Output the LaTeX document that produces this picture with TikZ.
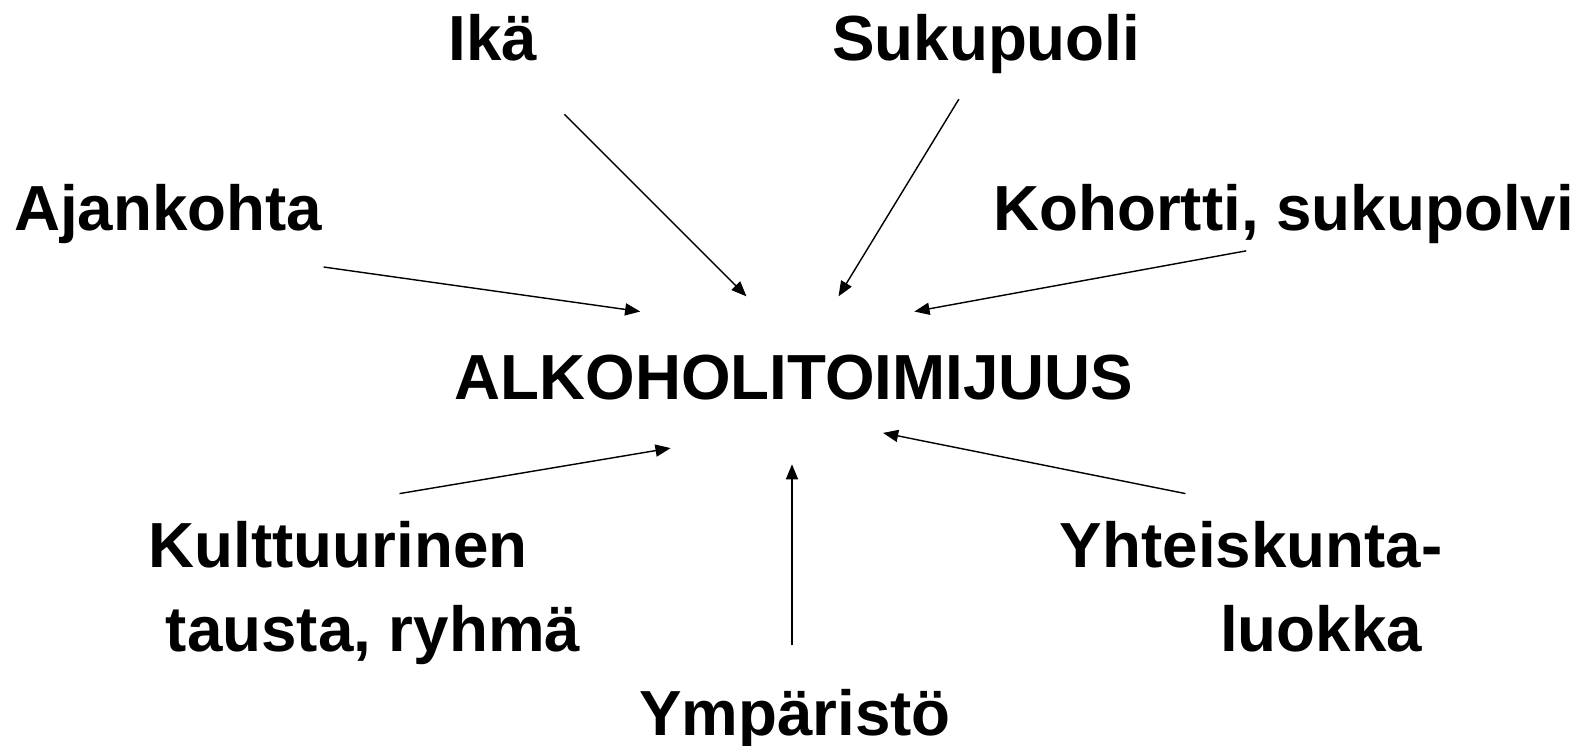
\documentclass[tikz,border=0pt]{standalone}
\usepackage{fontspec}
\setmainfont{Liberation Sans}
\usetikzlibrary{arrows.meta}
\tikzset{
  lbl/.style={font=\fontsize{31.5}{38}\selectfont\bfseries, inner sep=0pt, outer sep=0pt},
  arr/.style={-{Triangle[length=7.5pt,width=6pt]}, line width=0.7pt}
}
\begin{document}
\begin{tikzpicture}[x=0.5pt,y=-0.5pt]
\useasboundingbox (0,0) rectangle (1568,737);
% labels
\node[lbl, anchor=base] (ika) at (487,60) {Ikä};
\node[lbl, anchor=base] (suku) at (975,60) {Sukupuoli};
\node[lbl, anchor=base west] (ajan) at (14,228) {Ajankohta};
\node[lbl, anchor=base east] (koh) at (1556,228) {Kohortti, sukupolvi};
\node[lbl, anchor=base] (alko) at (785,395) {ALKOHOLITOIMIJUUS};
\node[lbl, anchor=base west] (kult1) at (147,561) {Kulttuurinen};
\node[lbl, anchor=base west] (kult2) at (164,644) {tausta, ryhmä};
\node[lbl, anchor=base east] (yht1) at (1426,561) {Yhteiskunta-};
\node[lbl, anchor=base east] (yht2) at (1406,644) {luokka};
\node[lbl, anchor=base] (ymp) at (786,727) {Ympäristö};
% arrow ends
\coordinate (ikaS) at (558,113);   \coordinate (ikaE) at (738,293);
\coordinate (sukS) at (948,98);    \coordinate (sukE) at (829,293);
\coordinate (ajaS) at (320,264);   \coordinate (ajaE) at (633,308);
\coordinate (kohS) at (1232,248);  \coordinate (kohE) at (904,308);
\coordinate (kulS) at (395,488);   \coordinate (kulE) at (663,443);
\coordinate (ympS) at (783,638);   \coordinate (ympE) at (783,459);
\coordinate (yhtS) at (1172,488);  \coordinate (yhtE) at (873,428);
\draw[arr] (ikaS) -- (ikaE);
\draw[arr] (sukS) -- (sukE);
\draw[arr] (ajaS) -- (ajaE);
\draw[arr] (kohS) -- (kohE);
\draw[arr] (kulS) -- (kulE);
\draw[arr] (ympS) -- (ympE);
\draw[arr] (yhtS) -- (yhtE);
\end{tikzpicture}
\end{document}
